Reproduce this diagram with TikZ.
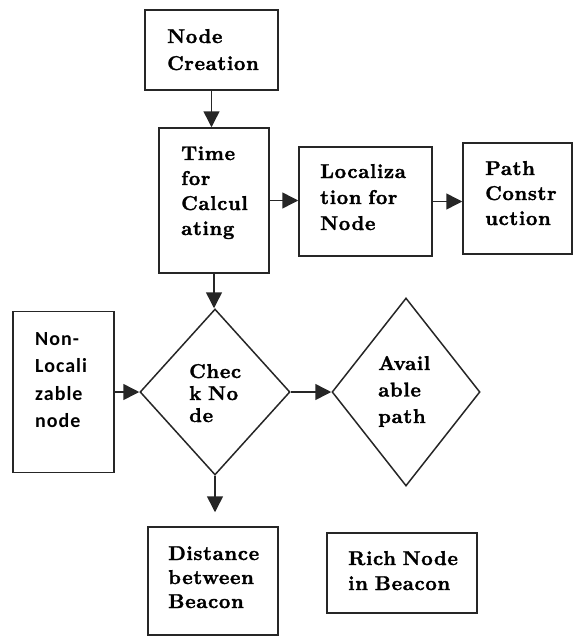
\documentclass[tikz,border=0pt]{standalone}
\usepackage{fontspec}
\newfontfamily\lblfont{lmroman10-bold}[Extension=.otf,LetterSpace=3,FakeBold=1.5]
\newfontfamily\nlfont{Carlito Bold}[LetterSpace=5]
\usetikzlibrary{arrows.meta,shapes.geometric}
\begin{document}
\begin{tikzpicture}[x=1pt,y=-1pt,
  box/.style={draw=black!85,line width=1.5pt,rectangle,inner sep=0pt},
  dia/.style={draw=black!85,line width=1.5pt,diamond,inner sep=0pt},
  lbl/.style={anchor=base west,inner sep=0pt,align=left,text width=120pt,font=\lblfont\fontsize{20}{#1}\selectfont},
  arr/.style={draw=black!85,line width=1.5pt,-{Triangle[length=16pt,width=16pt]}}]
\useasboundingbox (0,0) rectangle (574,637);
% boxes
\node[box,minimum width=133,minimum height=80] (nc) at (211.5,50) {};
\node[box,minimum width=110,minimum height=145] (time) at (214,200.5) {};
\node[box,minimum width=133,minimum height=109] (loc) at (365.5,201.5) {};
\node[box,minimum width=109,minimum height=111] (path) at (517.5,198.5) {};
\node[box,minimum width=101,minimum height=161] (nl) at (63.5,392) {};
\node[dia,minimum width=150,minimum height=166] (check) at (215,392) {};
\node[dia,minimum width=148,minimum height=188] (avail) at (406,392) {};
\node[box,minimum width=130,minimum height=108] (dist) at (213,581) {};
\node[box,minimum width=150,minimum height=80] (rich) at (402,573) {};
% labels
\node[lbl=27] (ncT) at (167,43) {Node\\Creation};
\node[lbl=25] (timeT) at (181,160) {Time\\for\\Calcul\\ating};
\node[lbl=26] (locT) at (320,178) {Localiza\\tion for\\Node};
\node[lbl=25] (pathT) at (485,175) {Path\\Constr\\uction};
\node[lbl=27.5,font=\nlfont\fontsize{20}{27.5}\selectfont] (nlT) at (35,345) {Non-\\Locali\\zable\\node};
\node[lbl=22] (checkT) at (189,378) {Chec\\k No\\de};
\node[lbl=26.5] (availT) at (378,370) {Avail\\able\\path};
\node[lbl=24] (distT) at (168,560) {Distance\\between\\Beacon};
\node[lbl=25] (richT) at (348,565) {Rich Node\\in Beacon};
% connectors
\draw[arr] (nc.south) -- (nc.south |- time.north);
\draw[arr] (time.east) -- (time.east -| loc.west);
\draw[arr] (loc.east) -- (loc.east -| path.west);
\draw[arr] (time.south) -- (time.south |- check.north);
\draw[arr] (nl.east) -- (nl.east -| check.west);
\draw[arr] (check.east) -- (avail.west);
\draw[arr,shorten >=14pt] (check.south) -- (check.south |- dist.north);
\end{tikzpicture}
\end{document}
